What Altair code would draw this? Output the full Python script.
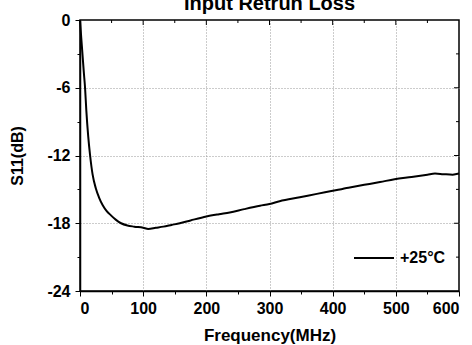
import altair as alt
import pandas as pd

# Data
freq = [0, 2, 4, 6, 8, 10, 13, 16, 20, 25, 30, 36, 42, 49, 57, 65, 75, 86, 100, 108,
        120, 132, 145, 158, 175, 200, 220, 237, 260, 285, 300, 316, 348, 375, 398,
        425, 450, 475, 498, 525, 550, 562, 575, 590, 600]
s11 = [0, -1.6, -3.1, -4.6, -6.0, -8.0, -10.3, -12.0, -13.7, -14.9, -15.7, -16.4,
       -16.9, -17.3, -17.7, -18.0, -18.2, -18.3, -18.4, -18.5, -18.4, -18.3, -18.15,
       -18.0, -17.75, -17.4, -17.2, -17.05, -16.75, -16.45, -16.3, -16.05, -15.7,
       -15.4, -15.15, -14.85, -14.6, -14.35, -14.1, -13.9, -13.7, -13.6, -13.65,
       -13.7, -13.6]
series_name = "+25°C"

x_ticks = list(range(0, 601, 50))
y_ticks = list(range(0, -25, -3))
top_major = [100, 200, 300, 400, 500]
top_minor = [50, 150, 250, 350, 450, 550]
right_major = [-6, -12, -18]
right_minor = [-3, -9, -15, -21]

df = pd.DataFrame({"freq": freq, "s11": s11, "series": [series_name] * len(freq)})

FONT = "Liberation Sans"
xscale = alt.Scale(domain=[0, 600], nice=False, zero=False)
yscale = alt.Scale(domain=[-24, 0], nice=False, zero=False)

x_axis = alt.Axis(values=x_ticks, title="Frequency(MHz)",
                  labelExpr="datum.value % 100 === 0 ? '' + datum.value : ''",
                  tickSize={"condition": {"test": "datum.value % 100 === 0", "value": 5}, "value": 3},
                  gridOpacity={"condition": {"test": "datum.value % 100 === 0 && datum.value > 0 && datum.value < 600", "value": 1}, "value": 0},
                  labelPadding=4, titlePadding=11, titleFontSize=17)
y_axis = alt.Axis(values=y_ticks, title="S11(dB)",
                  labelExpr="datum.value % 6 === 0 ? '' + datum.value : ''",
                  tickSize={"condition": {"test": "datum.value % 6 === 0", "value": 5}, "value": 3},
                  gridOpacity={"condition": {"test": "datum.value % 6 === 0 && datum.value < 0 && datum.value > -24", "value": 1}, "value": 0},
                  labelPadding=5, titlePadding=21, titleFontSize=16)

line = alt.Chart(df).mark_line(strokeWidth=2, interpolate="monotone", color="black").encode(
    x=alt.X("freq:Q", scale=xscale, axis=x_axis),
    y=alt.Y("s11:Q", scale=yscale, axis=y_axis),
    color=alt.Color("series:N", scale=alt.Scale(range=["black"]),
                    legend=alt.Legend(title=None, orient="none", legendX=273, legendY=217,
                                      symbolType="stroke", symbolSize=1600, symbolStrokeWidth=2,
                                      symbolStrokeColor="black",
                                      labelFontSize=16, labelFontWeight="bold", labelFont=FONT,
                                      labelColor="black", labelOffset=5, padding=0)),
)


def top_ticks(vals, length):
    return alt.Chart(pd.DataFrame({"freq": vals})).mark_rule(color="black", strokeWidth=1).encode(
        x=alt.X("freq:Q", scale=xscale, axis=x_axis),
        y=alt.value(0), y2=alt.value(length))


def right_ticks(vals, length):
    return alt.Chart(pd.DataFrame({"s11": vals})).mark_rule(color="black", strokeWidth=1).encode(
        y=alt.Y("s11:Q", scale=yscale, axis=y_axis),
        x=alt.value(379), x2=alt.value(379 - length))


chart = alt.layer(
    line,
    top_ticks(top_major, 5), top_ticks(top_minor, 3),
    right_ticks(right_major, 5), right_ticks(right_minor, 3),
).properties(
    width=379, height=271,
    padding={"left": 80, "top": 20, "right": 13, "bottom": 54},
    autosize=alt.AutoSizeParams(type="none"),
    title=alt.TitleParams("Input Retrun Loss", fontSize=20, fontWeight="bold", font=FONT,
                          anchor="middle", offset=-2, color="black"),
).configure_view(
    stroke="black", strokeWidth=1.5
).configure_axis(
    domainColor="black", domainWidth=1.5, tickColor="black", tickWidth=1,
    labelFont=FONT, labelFontSize=16, labelFontWeight="bold", labelColor="black",
    titleFont=FONT, titleFontWeight="bold", titleColor="black",
    gridColor="#999999", gridDash=[1, 2], gridWidth=1,
)

chart.save("out.html", embed_options={"renderer": "svg", "actions": False})
